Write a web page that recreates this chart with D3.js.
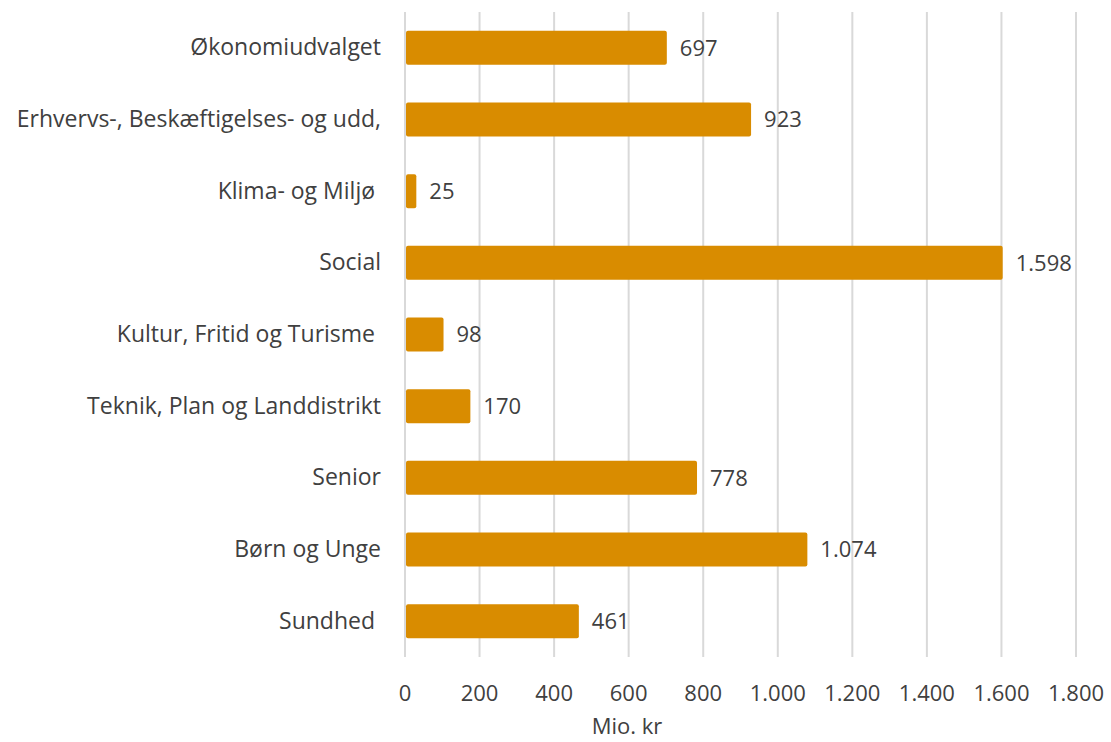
<!DOCTYPE html>
<html><head><meta charset="utf-8">
<script src="https://cdn.jsdelivr.net/npm/d3@7"></script>
<style>
body{margin:0;background:#fff;}
svg text{font-family:"Open Sans",Lato,sans-serif;fill:#404040;white-space:pre;}
</style></head>
<body><svg id="c" width="1111" height="742"></svg>
<script>
const categories = ["Økonomiudvalget","Erhvervs-, Beskæftigelses- og udd,","Klima- og Miljø ","Social","Kultur, Fritid og Turisme ","Teknik, Plan og Landdistrikt","Senior","Børn og Unge","Sundhed "];
const values = [697,923,25,1598,98,170,778,1074,461];
const xTicks = [0,200,400,600,800,1000,1200,1400,1600,1800];
const xTitle = "Mio. kr";

const loc = d3.formatLocale({decimal:",",thousands:".",grouping:[3],currency:["","kr"]});
const fmt = loc.format(",d");

const svg = d3.select("#c");
const m = {left:405, right:1076, top:12, bottom:657};
const fsCat = 23, fsNum = 22;
const x = d3.scaleLinear().domain([0,1800]).range([m.left,m.right]);
const y = d3.scaleBand().domain(categories).range([m.top,m.bottom]).paddingInner(0.525).paddingOuter(0.2625);

svg.append("g").selectAll("line").data(xTicks).join("line")
  .attr("x1",d=>x(d)).attr("x2",d=>x(d)).attr("y1",m.top).attr("y2",m.bottom)
  .attr("stroke","#d9d9d9").attr("stroke-width",2);

svg.append("g").selectAll("rect").data(values).join("rect")
  .attr("x",x(0)+1).attr("y",(d,i)=>y(categories[i]))
  .attr("width",d=>x(d)-x(0)+1).attr("height",y.bandwidth())
  .attr("rx",2).attr("fill","#D98C00");

svg.append("g").selectAll("text").data(values).join("text")
  .attr("x",d=>x(d)+15).attr("y",(d,i)=>y(categories[i])+y.bandwidth()/2)
  .attr("dy","0.35em").attr("font-size",fsNum).text(d=>fmt(d));

svg.append("g").selectAll("text").data(categories).join("text")
  .attr("x",381).attr("y",d=>y(d)+y.bandwidth()/2).attr("dy","0.33em")
  .attr("text-anchor","end").attr("font-size",fsCat).text(d=>d);

svg.append("g").selectAll("text").data(xTicks).join("text")
  .attr("x",d=>x(d)).attr("y",693).attr("dy","0.35em")
  .attr("text-anchor","middle").attr("font-size",fsNum).text(d=>fmt(d));

svg.append("text").attr("x",627).attr("y",726).attr("dy","0.35em")
  .attr("text-anchor","middle").attr("font-size",fsNum).text(xTitle);
</script></body></html>
